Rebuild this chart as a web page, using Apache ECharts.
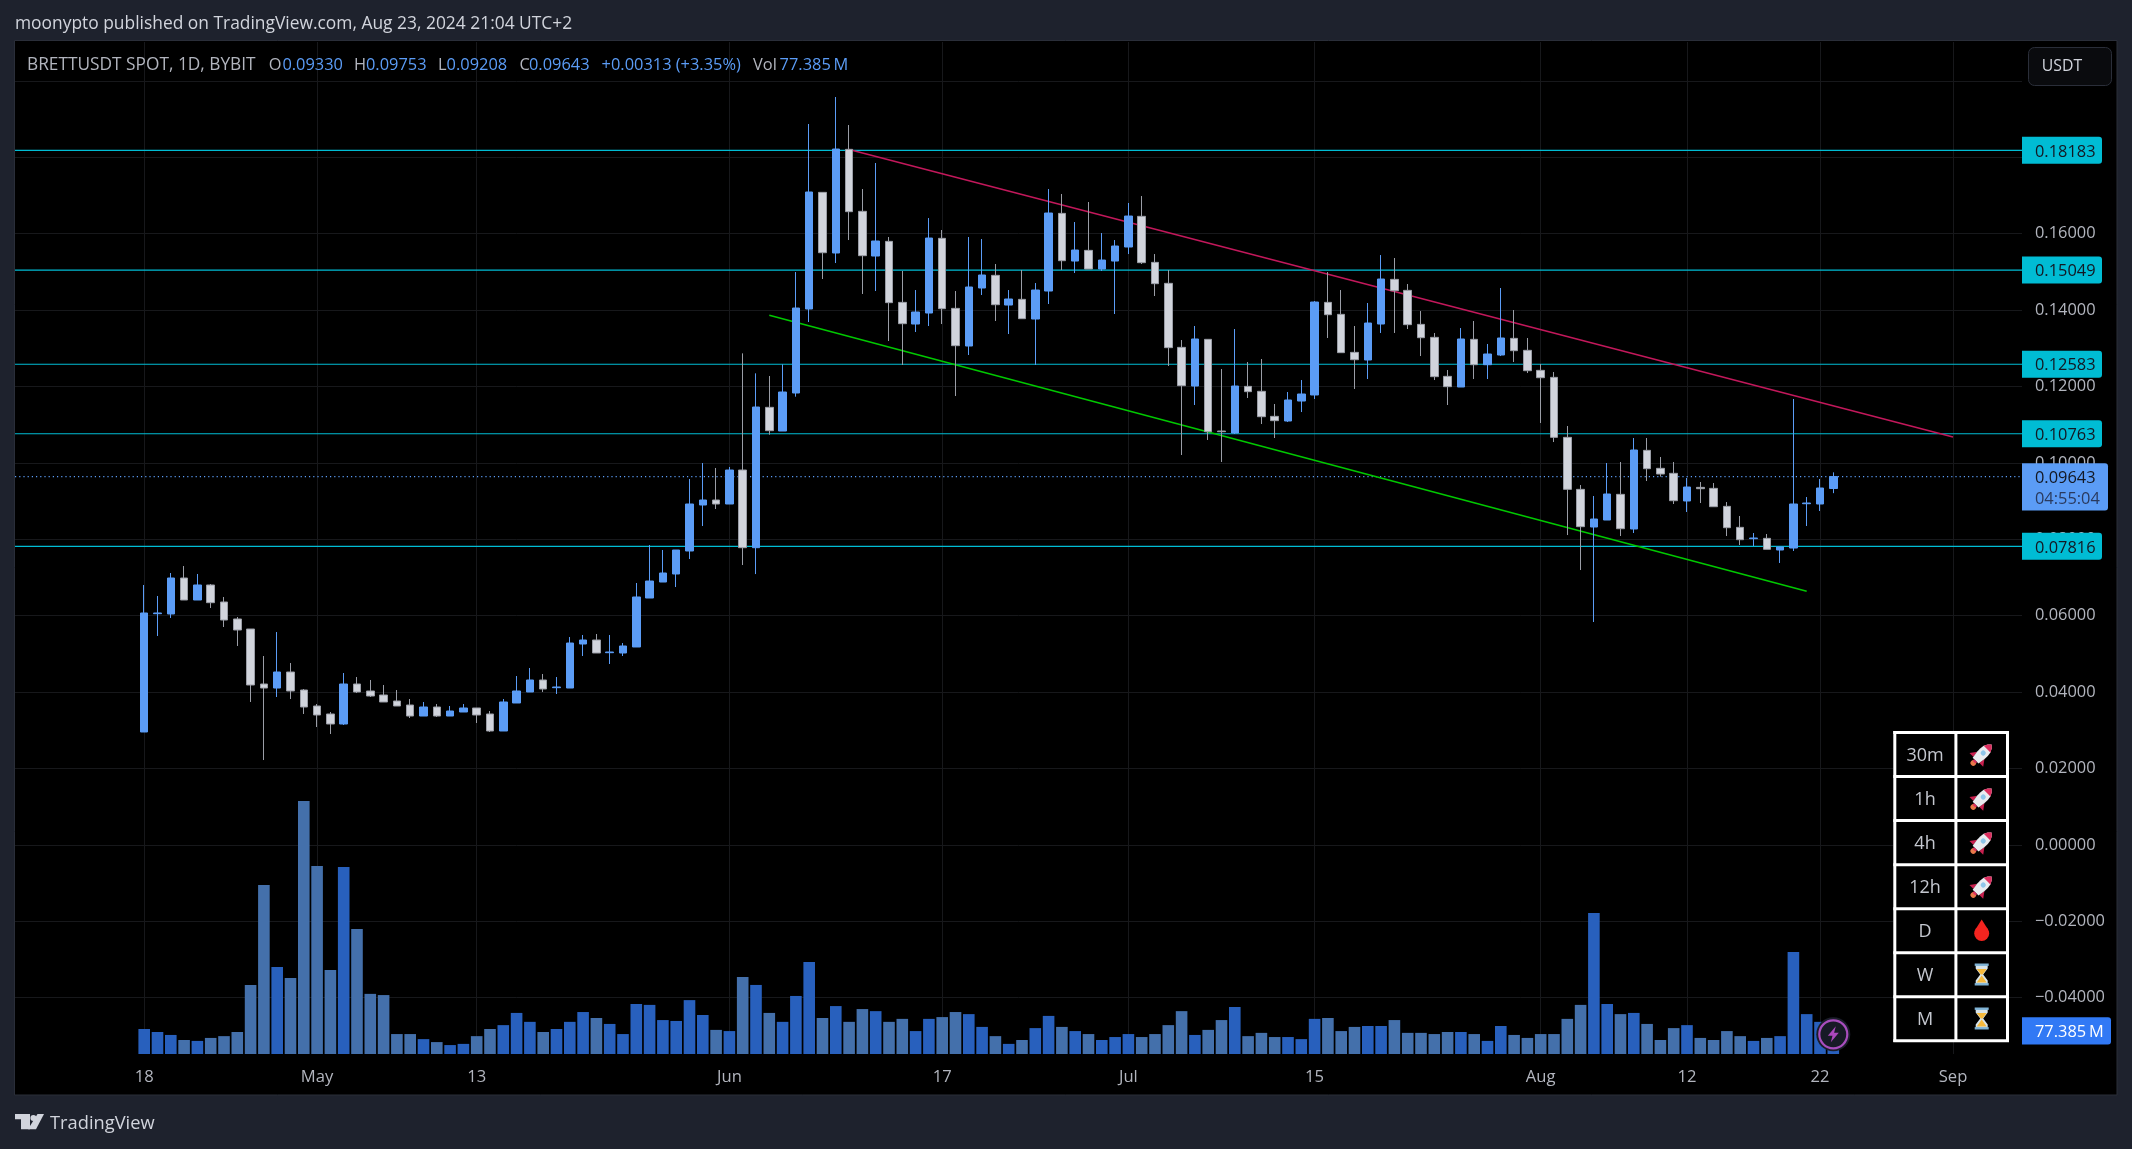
<!DOCTYPE html>
<html><head><meta charset="utf-8"><style>html,body{margin:0;padding:0;background:#1e222d}#c{width:2132px;height:1149px}</style>
<script src="https://cdn.jsdelivr.net/npm/echarts@6/dist/echarts.min.js"></script></head>
<body><div id="c"></div><script>
const opens=[.02956,.06053,.06045,.06987,.06411,.06804,.06359,.05914,.05652,.04212,.04107,.04526,.04055,.03636,.03427,.03165,.04212,.04029,.03924,.03767,.03662,.03374,.03610,.03374,.03479,.03584,.03427,.02982,.03715,.04003,.04317,.04116,.04107,.05259,.05364,.05032,.05024,.05181,.06463,.06882,.07092,.07694,.08898,.09029,.08924,.09814,.07781,.11455,.10835,.11830,.14029,.17083,.15495,.18209,.16586,.15416,.15800,.14203,.13636,.13924,.15879,.14046,.13060,.14579,.14910,.14133,.14282,.13767,.14500,.16533,.15285,.15564,.15076,.15285,.15652,.16455,.15250,.14701,.13025,.12013,.13235,.10835,.10783,.12004,.11874,.11219,.11097,.11620,.11778,.14203,.13889,.12894,.12694,.13636,.14805,.14517,.13627,.13287,.12266,.11987,.13235,.12571,.12825,.13261,.12947,.12423,.12240,.10669,.09308,.08322,.08505,.09177,.08270,.10329,.09858,.09727,.09003,.09360,.09334,.08863,.08313,.08017,.08025,.07720,.07772,.08932,.08924,.09330];
const highs=[.06804,.06516,.07118,.07301,.07092,.06830,.06490,.05966,.05652,.04945,.05573,.04762,.04081,.03688,.03479,.04500,.04395,.04317,.04186,.04055,.03819,.03741,.03688,.03636,.03688,.03584,.03505,.03819,.04421,.04631,.04474,.04395,.05442,.05495,.05521,.05495,.05285,.06856,.07851,.07720,.07720,.09579,.09997,.09867,.09893,.12868,.12345,.12275,.12580,.14997,.18872,.17092,.19579,.18846,.17170,.17851,.15914,.15024,.14526,.16411,.16097,.14500,.15914,.15861,.15207,.14526,.15050,.14709,.17170,.17040,.16306,.16830,.16018,.15835,.16804,.16987,.15468,.15050,.13217,.13584,.13235,.12458,.13505,.12641,.12720,.11542,.11856,.12170,.14238,.14997,.14526,.13584,.14186,.15442,.15364,.14683,.13976,.13401,.12432,.13531,.13715,.13113,.14579,.14003,.13270,.12589,.12380,.10966,.09421,.09134,.09997,.10024,.10652,.10652,.10155,.10024,.09605,.09500,.09474,.08976,.08610,.08165,.08139,.07798,.11673,.09107,.09579,.09753];
const lows=[.02956,.05469,.05940,.06411,.06411,.06202,.05704,.05207,.03741,.02222,.03872,.03819,.03427,.03086,.02903,.03139,.03976,.03872,.03741,.03636,.03322,.03374,.03348,.03374,.03479,.03191,.02956,.02982,.03715,.04003,.04003,.03950,.04107,.04945,.05024,.04736,.04945,.05181,.06463,.06882,.06751,.07484,.08348,.08793,.08924,.07327,.07090,.10739,.10835,.11734,.13688,.14814,.15233,.15835,.14422,.14500,.13191,.12563,.13427,.13584,.13636,.11751,.12825,.14395,.13715,.13374,.13776,.12563,.14160,.15050,.14971,.15076,.15024,.13898,.15468,.15207,.14369,.12537,.10207,.11516,.10600,.10024,.10757,.11699,.11018,.10652,.11071,.11332,.11673,.13270,.12886,.11935,.12196,.13401,.13401,.13505,.12798,.12170,.11516,.11987,.12196,.12196,.12798,.12641,.12353,.11045,.10547,.08112,.07196,.05835,.08505,.08086,.08165,.09526,.09640,.08924,.08715,.08950,.08854,.08086,.07851,.07825,.07737,.07380,.07694,.08348,.08741,.09208];
const closes=[.06071,.06071,.06987,.06411,.06804,.06341,.05887,.05626,.04186,.04107,.04526,.04029,.03610,.03401,.03165,.04212,.04003,.03898,.03741,.03636,.03374,.03610,.03374,.03505,.03584,.03401,.02982,.03741,.04029,.04317,.04081,.04134,.05285,.05364,.05024,.05050,.05207,.06490,.06908,.07118,.07720,.08924,.09029,.08924,.09814,.07781,.11463,.10844,.11856,.14055,.17092,.15503,.18217,.16577,.15425,.15809,.14195,.13645,.13950,.15887,.14038,.13069,.14605,.14919,.14142,.14291,.13776,.14526,.16542,.15294,.15573,.15076,.15311,.15678,.16463,.15242,.14692,.13017,.12022,.13244,.10817,.10817,.12013,.11865,.11210,.11106,.11647,.11804,.14212,.13880,.12886,.12702,.13662,.14814,.14509,.13619,.13278,.12258,.11996,.13244,.12571,.12851,.13270,.12938,.12414,.12231,.10669,.09308,.08331,.08531,.09186,.08278,.10338,.09849,.09709,.09011,.09369,.09325,.08854,.08304,.07990,.08034,.07737,.07798,.08924,.08950,.09343,.09643];
const volumes=[84,74,64,47,44,54,60,74,232,568,292,255,850,632,282,628,420,202,198,67,67,50,40,30,34,60,84,97,138,108,74,84,108,141,121,101,67,168,165,114,111,181,131,81,77,259,232,138,108,195,309,121,161,108,151,144,108,118,77,118,124,141,134,91,60,34,47,87,128,91,77,67,47,57,67,57,67,97,144,64,81,114,158,60,71,57,57,50,118,121,77,91,94,94,114,71,71,67,74,74,67,44,94,64,54,67,67,118,165,474,168,134,138,101,47,87,97,54,47,77,60,44,54,60,343,134,108,77.385];

const priceTicks=[-.04,-.02,0,.02,.04,.06,.08,.1,.12,.14,.16,.18,.2];
const priceLabelTicks=[-.04,-.02,0,.02,.04,.06,.08,.1,.12,.14,.16,.18];
const timeTickDays=[0,13,25,44,60,74,88,105,116,126,136];
const timeTickLabels=['18','May','13','Jun','17','Jul','15','Aug','12','22','Sep'];
const levels=[.18183,.15049,.12583,.10763,.07816];
const lastPrice=.09643, lastCountdown='04:55:04', lastVolume=77.385, lastVolumeLabel='77.385\u2009M';
const resistanceLine=[[53,.18207],[136,.10678]];
const supportLine=[[47,.13864],[125,.06639]];
const headerText='moonypto published on TradingView.com, Aug 23, 2024 21:04 UTC+2';
const legendParts=[['BRETTUSDT SPOT, 1D, BYBIT',27,0,17.3],['O',268.7,0,16.4],['0.09330',282.4,1,16.4],['H',354,0,16.4],['0.09753',366,1,16.4],['L',438,0,16.4],['0.09208',446.6,1,16.4],['C',519.5,0,16.4],['0.09643',529,1,16.4],['+0.00313 (+3.35%)',601.6,1,16.4],['Vol',753,0,16.4],['77.385\u2009M',779.6,1,16.4]];
const tableFrames=['30m','1h','4h','12h','D','W','M'];
const tableIcons=['rocket','rocket','rocket','rocket','drop','glass','glass'];

const FONT='"Open Sans", "Noto Sans", sans-serif';
const UP='#5b9cf6', DOWN='#d1d4dc', DOWN_EDGE='#9a9da6', CYAN='#00bcd4', GRID='#17181b', AXIS='#b2b5be', DARK='#131722';
const XMIN=-9.714, XMAX=141.188, TXT=16.4;
const font=(s)=>s+'px '+FONT;

const candleData=opens.map((o,i)=>[i,o,closes[i],lows[i],highs[i]]);
const volumeData=volumes.map((v,i)=>({value:[i,v],itemStyle:{color:closes[i]>opens[i]?'#2860bd':'#4470ab'}}));
const lineSeries=(data,color,width,type,z)=>({type:'line',data,symbol:'none',silent:true,animation:false,z,lineStyle:{color,width,type:type||'solid'}});

function priceTags(p,api){
  const i=p.dataIndex, y=api.coord([XMAX,api.value(1)])[1];
  return {type:'group',children:[
    {type:'rect',shape:{x:2022,y:y-13.5,width:80,height:27,r:[0,3,3,0]},style:{fill:CYAN}},
    {type:'text',style:{text:levels[i].toFixed(5),x:2035,y:y+1.5,fill:DARK,font:font(TXT),verticalAlign:'middle'}}
  ]};
}
function lastTag(p,api){
  const y=api.coord([XMAX,api.value(1)])[1];
  return {type:'group',children:[
    {type:'rect',shape:{x:2022,y:y-13.4,width:86,height:47.4,r:[0,3,3,0]},style:{fill:UP}},
    {type:'text',style:{text:lastPrice.toFixed(5),x:2035,y:y+1.5,fill:DARK,font:font(TXT),verticalAlign:'middle'}},
    {type:'text',style:{text:lastCountdown,x:2035,y:y+22.5,fill:'#2a3a5e',font:font(TXT),verticalAlign:'middle'}}
  ]};
}
function volTag(p,api){
  const y=api.coord([XMAX,api.value(1)])[1];
  return {type:'group',children:[
    {type:'rect',shape:{x:2022,y:y-13.6,width:89,height:27.2,r:[0,3,3,0]},style:{fill:'#3179f5'}},
    {type:'text',style:{text:lastVolumeLabel,x:2035,y:y+1,fill:'#ffffff',font:font(TXT),verticalAlign:'middle'}}
  ]};
}

const poly=(points,fill,z)=>({type:'polygon',z,shape:{points},style:{fill}});
function iconChildren(kind,z){
  const c=(cx,cy,r,fill)=>({type:'circle',z,shape:{cx,cy,r},style:{fill}});
  const rc=(x,y,width,height,fill)=>({type:'rect',z,shape:{x,y,width,height},style:{fill}});
  if(kind==='rocket') return [
    poly([[-4.6,1],[-9,7],[-4,7]],'#c9204f',z), poly([[4.6,1],[9,7],[4,7]],'#c9204f',z),
    c(0,11,2.6,'#e8784a'),
    poly([[0,-13],[2.6,-10.5],[4.4,-7],[5,-3],[4.8,1],[3.8,8],[-3.8,8],[-4.8,1],[-5,-3],[-4.4,-7],[-2.6,-10.5]],'#e9ecf0',z+1),
    poly([[0,-13],[2.6,-10.5],[4.4,-7],[-4.4,-7],[-2.6,-10.5]],'#dd2e5f',z+2),
    poly([[-2.2,8],[2.2,8],[1.6,10],[-1.6,10]],'#dd2e5f',z+2),
    {type:'circle',z:z+2,shape:{cx:0,cy:-2,r:2.4},style:{fill:'#8fc6ea'}}
  ];
  if(kind==='drop') return [c(0,3,7.5,'#f4241f'),poly([[0,-11],[6.6,-0.6],[-6.6,-0.6]],'#f4241f',z)];
  return [
    poly([[-6,-10],[6,-10],[6,-6],[1.5,0],[6,6],[6,10],[-6,10],[-6,6],[-1.5,0],[-6,-6]],'#d8e4ea',z),
    poly([[-5,-5.5],[5,-5.5],[0.8,0],[-0.8,0]],'#f6b93c',z+1), poly([[0,1],[5,8],[-5,8]],'#f6b93c',z+1),
    rc(-7,-11,14,2.4,'#7fb3d5'), rc(-7,8.6,14,2.4,'#7fb3d5')
  ];
}

const gfx=[];
gfx.push({type:'rect',z:-10,shape:{x:14.5,y:40.5,width:2102.5,height:1054.5},style:{fill:'#000000',stroke:'#2a2e39',lineWidth:1}});
gfx.push({type:'text',x:15,y:24,z:50,style:{text:headerText,fill:'#d1d4dc',font:font(17.4),verticalAlign:'middle'}});
legendParts.forEach(p=>gfx.push({type:'text',x:p[1],y:65,z:50,style:{text:p[0],fill:p[2]?UP:'#b2b5be',font:font(p[3]),verticalAlign:'middle'}}));
gfx.push({type:'rect',z:50,shape:{x:2028.5,y:47.5,width:83,height:38,r:6},style:{fill:'#0a0b0e',stroke:'#2a2e39',lineWidth:1}});
gfx.push({type:'text',x:2062,y:66,z:51,style:{text:'USDT',fill:'#d1d4dc',font:font(15.8),align:'center',verticalAlign:'middle'}});
gfx.push({type:'rect',z:60,shape:{x:1893.3,y:731,width:115.7,height:311},style:{fill:'#000'}});
for(let r=0;r<=tableFrames.length;r++) gfx.push({type:'rect',z:61,shape:{x:1893.3,y:731+r*44.05,width:115.7,height:3},style:{fill:'#fff'}});
[1893.3,1954.4,2006].forEach(x=>gfx.push({type:'rect',z:61,shape:{x,y:731,width:3,height:311},style:{fill:'#fff'}}));
tableFrames.forEach((t,r)=>{
  const cy=754.5+r*44, k=tableIcons[r]==='rocket'?1.08:1;
  gfx.push({type:'text',x:1925,y:cy+1.5,z:62,style:{text:t,fill:'#c4c7cf',font:font(18),align:'center',verticalAlign:'middle'}});
  gfx.push({type:'group',x:1981.7,y:cy,scaleX:k,scaleY:k,rotation:tableIcons[r]==='rocket'?-Math.PI/4:0,children:iconChildren(tableIcons[r],62)});
});
gfx.push({type:'group',x:1833.3,y:1034.3,children:[
  {type:'circle',z:55,shape:{cx:0,cy:0,r:17},style:{fill:'#1b1d2a'}},
  {type:'circle',z:56,shape:{cx:0,cy:0,r:14},style:{fill:'#171a26',stroke:'#a84dbd',lineWidth:2.2}},
  poly([[2.5,-8],[-5.5,1.5],[-0.8,1.5],[-2.5,8],[5.5,-1.5],[0.8,-1.5]],'#ab47bc',57)
]});
gfx.push({type:'group',x:0,y:0,children:[
  poly([[15,1114],[30,1114],[30,1129.3],[21,1129.3],[21,1119.3],[15,1119.3]],'#d1d4dc',50),
  {type:'circle',z:50,shape:{cx:33.4,cy:1118,r:3},style:{fill:'#d1d4dc'}},
  poly([[37.5,1114],[44,1114],[36,1129.3],[28,1129.3]],'#d1d4dc',50)
]});
gfx.push({type:'text',x:50,y:1124,z:50,style:{text:'TradingView',fill:'#d1d4dc',font:font(18.3),verticalAlign:'middle'}});

const chart=echarts.init(document.getElementById('c'),null,{renderer:'canvas'});
chart.setOption({
  animation:false,
  backgroundColor:'#1e222d',
  tooltip:{show:false},
  graphic:{elements:gfx},
  grid:{left:15,top:42,width:2007,height:1012,containLabel:false},
  xAxis:{type:'value',min:XMIN,max:XMAX,
    axisLine:{show:false},
    axisTick:{show:false,customValues:timeTickDays},
    splitLine:{show:true,lineStyle:{color:GRID,width:1}},
    axisLabel:{customValues:timeTickDays,margin:15,color:AXIS,fontFamily:FONT,fontSize:16.6,
      formatter:v=>timeTickLabels[timeTickDays.indexOf(v)]}},
  yAxis:[
    {type:'value',position:'right',min:-.05474,max:.21019,scale:true,
      axisLine:{show:false},
      axisTick:{show:false,customValues:priceTicks},
      splitLine:{show:true,lineStyle:{color:GRID,width:1}},
      axisLabel:{customValues:priceLabelTicks,margin:13,padding:[2,0,0,0],color:AXIS,fontFamily:FONT,fontSize:TXT,
        formatter:v=>(v<0?'\u2212':'')+Math.abs(v).toFixed(5)}},
    {type:'value',min:0,max:3400,show:false,splitLine:{show:false}}
  ],
  series:[
    {type:'bar',yAxisIndex:1,data:volumeData,barWidth:11.6,z:1,silent:true},
    ...levels.map(v=>lineSeries([[XMIN,v],[XMAX,v]],CYAN,1.2,null,2)),
    lineSeries([[XMIN,lastPrice],[XMAX,lastPrice]],UP,1.2,[1.2,3],2),
    lineSeries(resistanceLine,'#c2185b',1.6,null,2),
    lineSeries(supportLine,'#00c800',1.6,null,2),
    {type:'candlestick',data:candleData,barWidth:8,z:3,silent:true,clip:true,
      itemStyle:{color:UP,color0:DOWN,borderColor:UP,borderColor0:DOWN_EDGE,borderWidth:1}},
    {type:'custom',renderItem:priceTags,data:levels.map(v=>[XMAX,v]),z:6,silent:true},
    {type:'custom',renderItem:lastTag,data:[[XMAX,lastPrice]],z:6,silent:true},
    {type:'custom',renderItem:volTag,yAxisIndex:1,data:[[XMAX,lastVolume]],z:6,silent:true}
  ]
});
</script></body></html>
